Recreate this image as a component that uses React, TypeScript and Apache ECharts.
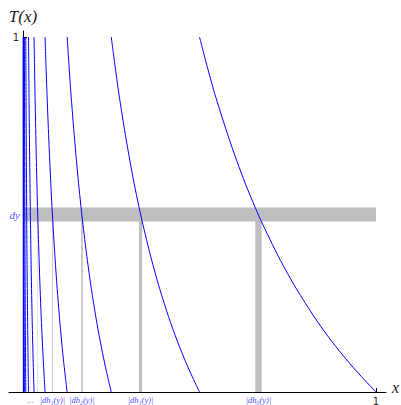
import React, { useEffect, useRef } from "react";
import * as echarts from "echarts";

// Base branch of T(x) (the rightmost curve, x in [1/2, 1])
const baseX = [0.5, 0.525, 0.55, 0.6, 0.65, 0.7, 0.75, 0.8, 0.85, 0.9, 0.95, 1.0];
const baseT = [1.0, 0.905, 0.818, 0.667, 0.538, 0.429, 0.333, 0.25, 0.176, 0.111, 0.053, 0.0];
// Each further branch is the same shape squeezed towards 0
const branchScale = [1, 0.5, 0.25, 0.125, 0.0625, 0.03125, 0.015625, 0.0078125, 0.00390625, 0.001953125, 0.0009765625];

// Gray band around y = dy
const bandY = [0.48, 0.52];
const bandX = [0, 1];
const dyLevel = 0.5;

// Vertical bars |dh_n(y)|
const barCenters = [0.667, 0.333, 0.167, 0.0833, 0.0417, 0.0208, 0.0104];
const barWidths = [0.018, 0.009, 0.0045, 0.0023, 0.0011, 0.00056, 0.00028];

// Bottom labels
const bottomLabelX = [0.021, 0.0833, 0.167, 0.333, 0.667];
const bottomLabelText = ["...", "|dh₃(y)|", "|dh₂(y)|", "|dh₁(y)|", "|dh₀(y)|"];

// Axis ticks / ranges
const xTicks = [1];
const yTicks = [1];
const xRange = [-0.0397, 1.0283];
const yRange = [0, 1.017];

const labelBlue = "#4d4dff";
const serif = "Liberation Serif";

export default function App() {
  const ref = useRef<HTMLDivElement>(null);
  useEffect(() => {
    if (!ref.current) return;
    document.body.style.margin = "0";
    const chart = echarts.init(ref.current, null, { renderer: "svg" });

    const curveSeries = branchScale.map((s) => ({
      type: "line",
      data: baseX.map((x, i) => [x * s, baseT[i]]),
      smooth: 0.4,
      showSymbol: false,
      lineStyle: { color: "#0000ff", width: 1 },
      silent: true,
      z: 5,
    }));

    const option: any = {
      animation: false,
      grid: { left: 9, right: 15, top: 31, bottom: 13, outerBoundsMode: "none", containLabel: false },
      xAxis: {
        type: "value",
        min: xRange[0],
        max: xRange[1],
        splitLine: { show: false },
        axisLine: { show: true, lineStyle: { color: "#000", width: 1 } },
        axisTick: { show: true, inside: true, length: 4, customValues: xTicks, lineStyle: { color: "#000" } },
        axisLabel: { show: false },
      },
      yAxis: {
        type: "value",
        min: yRange[0],
        max: yRange[1],
        splitLine: { show: false },
        axisLine: { show: true, onZero: true, lineStyle: { color: "#000", width: 1 } },
        axisTick: { show: true, inside: true, length: 4, customValues: yTicks, lineStyle: { color: "#000" } },
        axisLabel: { show: false },
      },
      series: [
        {
          type: "custom",
          silent: true,
          z: 1,
          data: [[bandX[0], bandX[1], bandY[0], bandY[1]]],
          renderItem: (params: any, api: any) => {
            const p1 = api.coord([api.value(0), api.value(3)]);
            const p2 = api.coord([api.value(1), api.value(2)]);
            return {
              type: "rect",
              shape: { x: p1[0], y: p1[1], width: p2[0] - p1[0], height: p2[1] - p1[1] },
              style: { fill: "#bfbfbf" },
            };
          },
        },
        {
          type: "custom",
          silent: true,
          z: 1,
          data: barCenters.map((c, i) => [c, barWidths[i], dyLevel]),
          renderItem: (params: any, api: any) => {
            const c = api.value(0);
            const w = api.value(1);
            const p1 = api.coord([c - w / 2, api.value(2)]);
            const p2 = api.coord([c + w / 2, 0]);
            return {
              type: "rect",
              shape: { x: p1[0], y: p1[1], width: p2[0] - p1[0], height: p2[1] - p1[1] },
              style: { fill: "#bfbfbf" },
            };
          },
        },
        ...curveSeries,
      ],
    };
    chart.setOption(option);

    const px = (v: number[]) => chart.convertToPixel({ gridIndex: 0 }, v) as number[];
    const graphics: any[] = [];
    // tick labels
    xTicks.forEach((t) => {
      const p = px([t, 0]);
      graphics.push({
        type: "text", x: p[0], y: p[1] + 4, silent: true,
        style: { text: String(t), fill: "#222", fontSize: 10, fontFamily: "DejaVu Sans", align: "center", verticalAlign: "top" },
      });
    });
    yTicks.forEach((t) => {
      const p = px([0, t]);
      graphics.push({
        type: "text", x: p[0] - 4, y: p[1], silent: true,
        style: { text: String(t), fill: "#222", fontSize: 10, fontFamily: "DejaVu Sans", align: "right", verticalAlign: "middle" },
      });
    });
    // axis names
    const top = px([0, yRange[1]]);
    graphics.push({
      type: "text", x: top[0], y: top[1] - 6, silent: true,
      style: { text: "T(x)", fill: "#222", fontSize: 17, fontStyle: "italic", fontFamily: serif, align: "center", verticalAlign: "bottom" },
    });
    const right = px([xRange[1], 0]);
    graphics.push({
      type: "text", x: right[0] + 6, y: right[1] - 5, silent: true,
      style: { text: "x", fill: "#222", fontSize: 16, fontStyle: "italic", fontFamily: serif, align: "left", verticalAlign: "middle" },
    });
    // dy label
    const dyP = px([0, dyLevel]);
    graphics.push({
      type: "text", x: dyP[0] - 3, y: dyP[1], silent: true,
      style: { text: "dy", fill: labelBlue, fontSize: 11, fontStyle: "italic", fontFamily: serif, align: "right", verticalAlign: "middle" },
    });
    // bottom labels
    bottomLabelX.forEach((x, i) => {
      const p = px([x, 0]);
      graphics.push({
        type: "text", x: p[0], y: p[1] + 3, silent: true,
        style: { text: bottomLabelText[i], fill: labelBlue, fontSize: 8.5, fontStyle: "italic", fontFamily: serif, align: "center", verticalAlign: "top" },
      });
    });
    chart.setOption({ graphic: graphics });

    return () => chart.dispose();
  }, []);
  return <div ref={ref} style={{ width: 401, height: 405 }} />;
}
